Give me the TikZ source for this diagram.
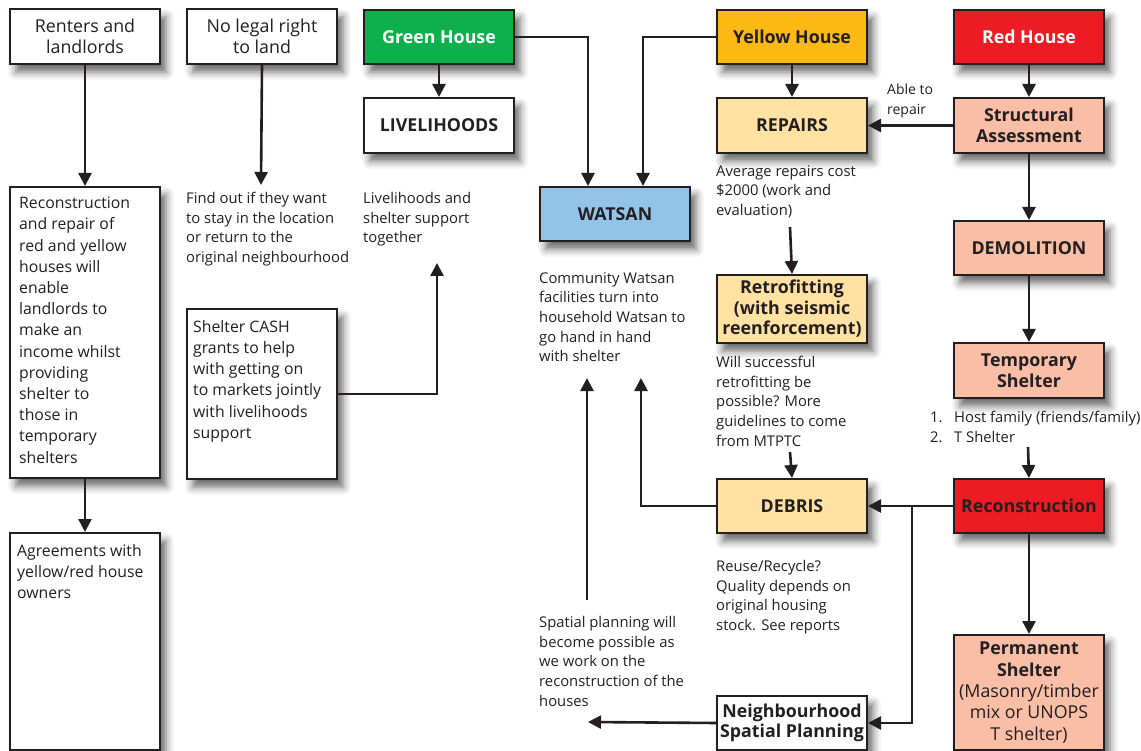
\documentclass[tikz,border=0pt]{standalone}
\usepackage{fontspec}
\setmainfont{Open Sans}
\usetikzlibrary{arrows.meta,shadows.blur}
\definecolor{dark}{HTML}{231F20}
\definecolor{gfill}{HTML}{0DB14B}
\definecolor{yfill}{HTML}{FDB913}
\definecolor{rfill}{HTML}{ED1C24}
\definecolor{lyfill}{HTML}{FFE1A2}
\definecolor{sfill}{HTML}{FABDA5}
\definecolor{bfill}{HTML}{92C4EA}
\tikzset{
  box/.style={draw=dark, line width=2pt, fill=white, minimum width=150pt, anchor=north west,
    inner sep=2pt, align=center, text=dark,
    blur shadow={shadow xshift=6pt, shadow yshift=-8pt, shadow blur radius=8pt, shadow opacity=60}},
  hdr/.style={font=\fontsize{17.8}{20.5}\selectfont\bfseries},
  reg/.style={font=\fontsize{17.8}{21}\selectfont},
  body/.style={anchor=north west, inner sep=0pt, align=left, text=dark, font=\fontsize{15.8}{21.2}\selectfont},
  small/.style={anchor=north west, inner sep=0pt, align=left, text=dark, font=\fontsize{14.8}{19.7}\selectfont},
  arr/.style={draw=dark, line width=2.6pt, -{Triangle[length=13pt,width=13pt]}},
  ln/.style={draw=dark, line width=2.6pt}
}
\begin{document}
\begin{tikzpicture}[x=1pt,y=-1pt]
\useasboundingbox (0,0) rectangle (1141,751);
% left column
\node[box,reg,minimum height=55pt] (renters) at (9,8) {Renters and\\landlords};
\node[box,reg,minimum height=55pt] (nolegal) at (186,8) {No legal right\\to land};
\node[box,minimum height=291pt] (lb1) at (9,186) {};
\node[body] (lb1t) at (19,197) {Reconstruction\\and repair of\\red and yellow\\houses will\\enable\\landlords to\\make an\\income whilst\\providing\\shelter to\\those in\\temporary\\shelters};
\node[box,minimum height=217pt] (lb2) at (9,532) {};
\node[body] (lb2t) at (17,544) {Agreements with\\yellow/red house\\owners};
\node[box,minimum height=170pt] (cash) at (186,308) {};
\node[body] (casht) at (193,320) {Shelter CASH\\grants to help\\with getting on\\to markets jointly\\with livelihoods\\support};
\node[small] (findout) at (186,192) {Find out if they want\\to stay in the location\\or return to the\\original neighbourhood};
\node[small] (livtext) at (363,192) {Livelihoods and\\shelter support\\together};
% middle column
\node[box,hdr,minimum height=54pt,fill=gfill,text=white] (green) at (363,9) {Green House};
\node[box,hdr,minimum height=55pt] (liveli) at (363,97) {LIVELIHOODS};
\node[box,hdr,minimum height=54pt,fill=bfill] (watsan) at (539,186) {WATSAN};
\node[small] (community) at (539,272) {Community Watsan\\facilities turn into\\household Watsan to\\go hand in hand\\with shelter};
\node[small] (spatial) at (539,616) {Spatial planning will\\become possible as\\we work on the\\reconstruction of the\\houses};
% yellow column
\node[box,hdr,minimum height=54pt,fill=yfill] (yellow) at (716,9) {Yellow House};
\node[box,hdr,minimum height=55pt,fill=lyfill] (repairs) at (716,97) {REPAIRS};
\node[small] (avg) at (716,165) {Average repairs cost\\\$2000 (work and\\evaluation)};
\node[box,hdr,minimum height=68pt,fill=lyfill] (retro) at (716,274) {Retrofitting\\(with seismic\\reenforcement)};
\node[small] (willsucc) at (716,356) {Will successful\\retrofitting be\\possible? More\\guidelines to come\\from MTPTC};
\node[box,hdr,minimum height=54pt,fill=lyfill] (debris) at (716,478) {DEBRIS};
\node[small] (reuse) at (716,560) {Reuse/Recycle?\\Quality depends on\\original housing\\stock. See reports};
\node[box,hdr,minimum height=54pt] (nsp) at (716,695) {Neighbourhood\\Spatial Planning};
% red column
\node[box,hdr,minimum height=54pt,fill=rfill,text=white] (red) at (953,9) {Red House};
\node[box,hdr,minimum height=55pt,fill=sfill] (struct) at (953,97) {Structural\\Assessment};
\node[small,font=\fontsize{14}{19.5}\selectfont] (able) at (887,84) {Able to\\repair};
\node[box,hdr,minimum height=54pt,fill=sfill] (demol) at (953,220) {DEMOLITION};
\node[box,hdr,minimum height=55pt,fill=sfill] (temp) at (953,342) {Temporary\\Shelter};
\node[small] (list) at (930,411) {\makebox[24pt][l]{1.}Host family (friends/family)\\\makebox[24pt][l]{2.}T Shelter};
\node[box,hdr,minimum height=54pt,fill=rfill] (recon) at (953,478) {Reconstruction};
\node[box,minimum height=115pt,fill=sfill,font=\fontsize{17.8}{21.3}\selectfont] (perm) at (953,634) {\textbf{Permanent}\\\textbf{Shelter}\\(Masonry/timber\\mix or UNOPS\\T shelter)};
% free-end coordinates
\coordinate (fo) at (261,185);
\coordinate (liv) at (437,263);
\coordinate (a1) at (790,227);
\coordinate (a2) at (790,452);
\coordinate (a3) at (1028,447);
\coordinate (up1) at (641,378);
\coordinate (up2s) at (587,600);
\coordinate (up2) at (587,378);
\coordinate (nspend) at (588,722);
% connectors
\draw[arr] (renters.south) -- (lb1.north);
\draw[arr] (lb1.south) -- (lb2.north);
\draw[arr] (nolegal.south) -- (fo);
\draw[arr] (cash.east) -| (liv);
\draw[arr] (green.south) -- (liveli.north);
\draw[arr] (green.east) -| ([xshift=-27pt]watsan.north);
\draw[arr] (yellow.west) -| ([xshift=28pt]watsan.north);
\draw[arr] (yellow.south) -- (repairs.north);
\draw[arr] (red.south) -- (struct.north);
\draw[arr] (struct.west) -- (repairs.east);
\draw[arr] (struct.south) -- (demol.north);
\draw[arr] (demol.south) -- (temp.north);
\draw[arr] (a1) -- (retro.north);
\draw[arr] (a2) -- (debris.north);
\draw[arr] (a3) -- (recon.north);
\draw[arr] (recon.south) -- (perm.north);
\draw[arr] (recon.west) -- (debris.east);
\draw[arr] ([xshift=-41pt]recon.west) |- (nsp.east);
\draw[arr] (nsp.west) -- (nspend);
\draw[arr] (debris.west) -| (up1);
\draw[arr] (up2s) -- (up2);
\end{tikzpicture}
\end{document}
